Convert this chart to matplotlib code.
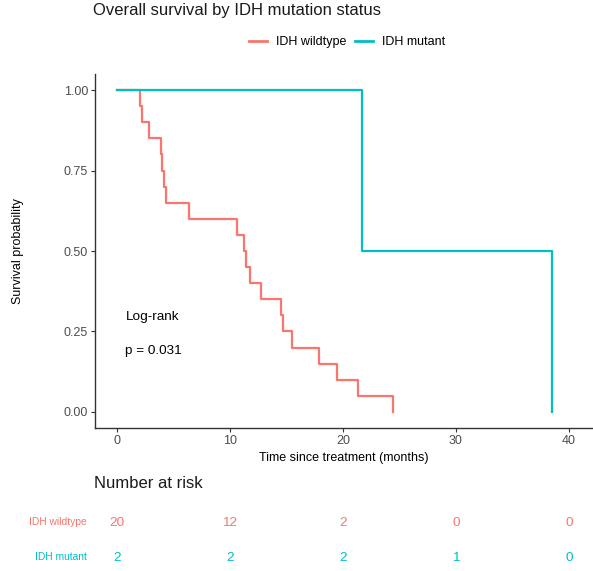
import numpy as np
import matplotlib.pyplot as plt
from matplotlib.lines import Line2D

plt.rcParams['font.family'] = ['Liberation Sans', 'DejaVu Sans']

# Event times (months) and survival after each event
wt_times = [0, 2.0, 2.2, 2.85, 3.85, 4.0, 4.15, 4.3, 6.4, 10.6, 11.25, 11.4,
            11.75, 12.75, 14.55, 14.7, 15.5, 17.9, 19.5, 21.35, 24.45]
wt_surv = [1.0, 0.95, 0.90, 0.85, 0.80, 0.75, 0.70, 0.65, 0.60, 0.55, 0.50, 0.45,
           0.40, 0.35, 0.30, 0.25, 0.20, 0.15, 0.10, 0.05, 0.0]
mut_times = [0, 21.65, 38.55]
mut_surv = [1.0, 0.5, 0.0]

risk_times = [0, 10, 20, 30, 40]
risk_wt = [20, 12, 2, 0, 0]
risk_mut = [2, 2, 2, 1, 0]

groups = ['IDH wildtype', 'IDH mutant']
colors = ['#F8766D', '#00BFC4']
tick_col = '#4D4D4D'
W, H = 593, 571

fig = plt.figure(figsize=(W/100, H/100), dpi=100)

# main KM panel
ax = fig.add_axes([95/W, 1 - 428/H, (592 - 95)/W, (428 - 74)/H])
ax.step(wt_times, wt_surv, where='post', color=colors[0], lw=1.6)
ax.step(mut_times, mut_surv, where='post', color=colors[1], lw=1.6)
xlim = (-1.95, 42.05)
ax.set_xlim(*xlim)
ax.set_ylim(-0.05, 1.05)
ax.set_xticks(risk_times)
ax.set_yticks([0, 0.25, 0.5, 0.75, 1.0])
ax.set_yticklabels(['0.00', '0.25', '0.50', '0.75', '1.00'])
for s in ['top', 'right']:
    ax.spines[s].set_visible(False)
for s in ['left', 'bottom']:
    ax.spines[s].set_color('#333333')
    ax.spines[s].set_linewidth(1.0)
ax.tick_params(length=3, width=0.8, color='#333333', labelcolor=tick_col,
               labelsize=9, pad=2)
ax.set_xlabel('Time since treatment (months)', fontsize=9)
ax.xaxis.label.set_va('center')
ax.xaxis.set_label_coords((344 - 95)/497, -(458 - 428)/354)
ax.set_ylabel('Survival probability', fontsize=9)
ax.yaxis.label.set_va('center')
ax.yaxis.set_label_coords(-(95 - 18)/497, 0.5)

ax.text(0.75, 0.295, 'Log-rank', fontsize=9.7, va='center')
ax.text(0.75, 0.19, 'p = 0.031', fontsize=9.7, va='center')

fig.text(93/W, 1 - 10/H, 'Overall survival by IDH mutation status',
         fontsize=12, color='#1a1a1a', va='center')

handles = [Line2D([], [], color=c, lw=2) for c in colors]
fig.legend(handles, groups, loc='center', bbox_to_anchor=(347/W, 1 - 42/H),
           ncol=2, frameon=False, fontsize=9, handlelength=1.45,
           handletextpad=0.7, columnspacing=0.7)

# risk table
fig.text(94/W, 1 - 483/H, 'Number at risk', fontsize=12,
         color='#1a1a1a', va='center')
tab = fig.add_axes([95/W, 0, (592 - 95)/W, 1 - 500/H])
tab.set_xlim(*xlim)
tab.set_ylim(H - 500, 0)
tab.axis('off')
for i, t in enumerate(risk_times):
    tab.text(t, 522.5 - 500, str(risk_wt[i]), color=colors[0], fontsize=9.7,
             ha='center', va='center')
    tab.text(t, 558 - 500, str(risk_mut[i]), color=colors[1], fontsize=9.7,
             ha='center', va='center')
fig.text(87/W, 1 - 522/H, groups[0], color=colors[0], fontsize=7.4,
         ha='right', va='center')
fig.text(87/W, 1 - 557/H, groups[1], color=colors[1], fontsize=7.4,
         ha='right', va='center')

fig.savefig('out.png', dpi=100)
